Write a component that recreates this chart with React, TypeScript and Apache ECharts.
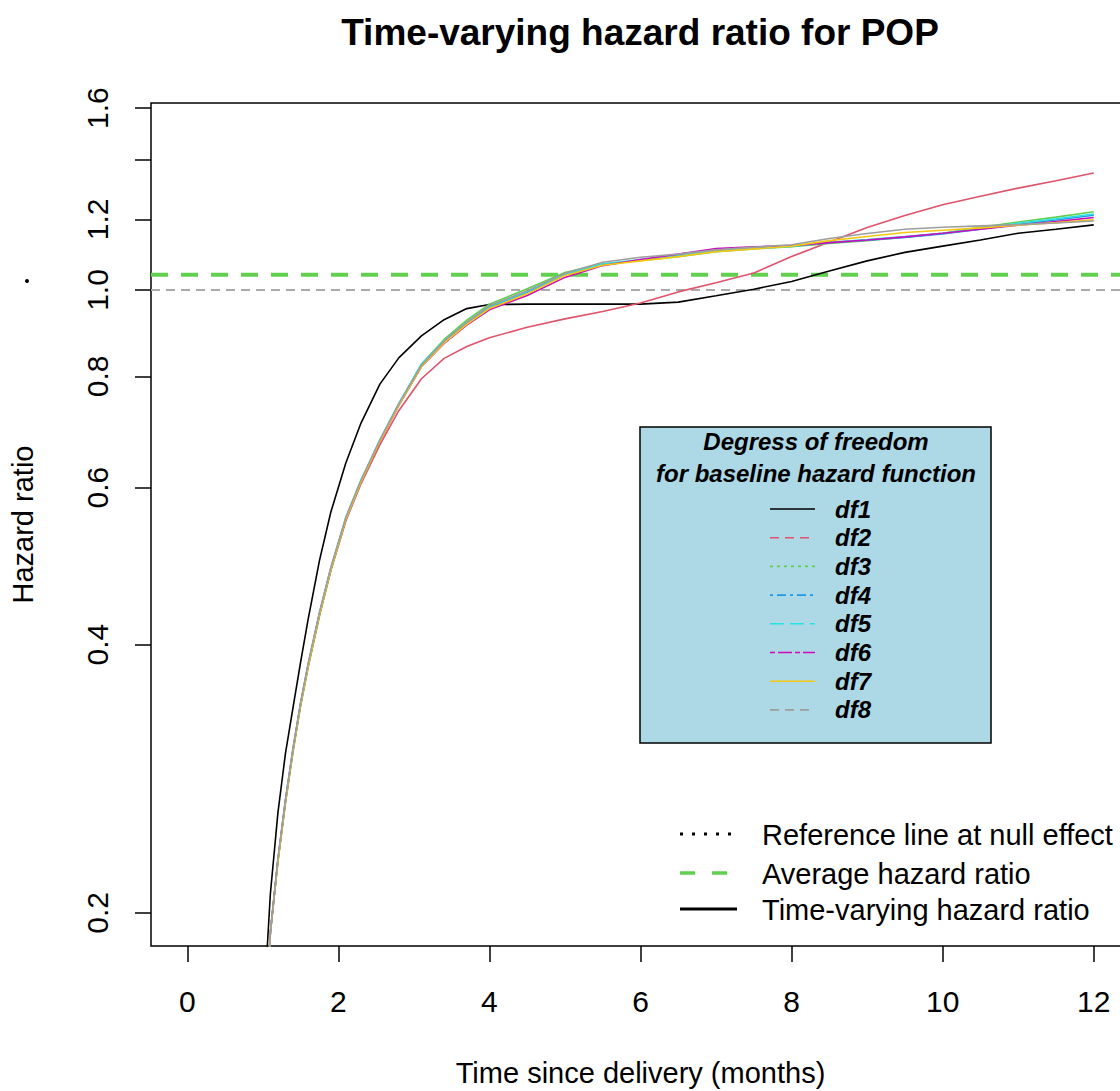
import React, { useEffect, useRef } from "react";
import * as echarts from "echarts";

// ---------- data ----------
const time = [1.0, 1.1, 1.2, 1.3, 1.4, 1.5, 1.6, 1.75, 1.9, 2.1, 2.3, 2.55, 2.8, 3.1, 3.4, 3.7, 4.0, 4.5, 5.0, 5.5, 6.0, 6.5, 7.0, 7.5, 8.0, 8.5, 9.0, 9.5, 10.0, 10.5, 11.0, 11.5, 12.0];

const df1 = [0.15, 0.21, 0.259, 0.302, 0.34, 0.382, 0.427, 0.497, 0.563, 0.64, 0.709, 0.784, 0.839, 0.888, 0.926, 0.953, 0.963, 0.964, 0.964, 0.964, 0.964, 0.969, 0.985, 1.002, 1.022, 1.05, 1.078, 1.102, 1.12, 1.138, 1.158, 1.17, 1.183];
const df2 = [0.13, 0.19, 0.229, 0.266, 0.304, 0.342, 0.378, 0.431, 0.484, 0.551, 0.606, 0.67, 0.732, 0.795, 0.838, 0.864, 0.884, 0.908, 0.928, 0.946, 0.967, 0.995, 1.019, 1.045, 1.09, 1.132, 1.175, 1.212, 1.246, 1.274, 1.301, 1.326, 1.353];
const df3 = [0.13, 0.19, 0.228, 0.266, 0.303, 0.341, 0.377, 0.431, 0.484, 0.552, 0.608, 0.676, 0.744, 0.826, 0.88, 0.925, 0.964, 1.003, 1.046, 1.07, 1.079, 1.09, 1.104, 1.112, 1.118, 1.128, 1.136, 1.146, 1.158, 1.176, 1.192, 1.207, 1.224];
const df4 = [0.13, 0.19, 0.229, 0.267, 0.305, 0.343, 0.379, 0.433, 0.486, 0.554, 0.61, 0.677, 0.743, 0.822, 0.875, 0.918, 0.956, 0.994, 1.04, 1.067, 1.08, 1.093, 1.108, 1.114, 1.12, 1.13, 1.137, 1.145, 1.156, 1.17, 1.185, 1.198, 1.213];
const df5 = [0.13, 0.19, 0.23, 0.268, 0.306, 0.344, 0.38, 0.434, 0.488, 0.556, 0.612, 0.679, 0.746, 0.825, 0.877, 0.92, 0.958, 0.996, 1.042, 1.069, 1.082, 1.094, 1.106, 1.113, 1.119, 1.131, 1.139, 1.148, 1.158, 1.172, 1.188, 1.202, 1.217];
const df6 = [0.13, 0.19, 0.229, 0.267, 0.305, 0.343, 0.379, 0.433, 0.486, 0.553, 0.609, 0.676, 0.742, 0.82, 0.871, 0.913, 0.95, 0.986, 1.033, 1.065, 1.082, 1.097, 1.113, 1.118, 1.121, 1.13, 1.138, 1.147, 1.158, 1.17, 1.182, 1.193, 1.206];
const df7 = [0.13, 0.19, 0.228, 0.266, 0.304, 0.342, 0.378, 0.432, 0.485, 0.553, 0.609, 0.676, 0.742, 0.82, 0.872, 0.915, 0.953, 0.99, 1.038, 1.066, 1.078, 1.09, 1.104, 1.112, 1.12, 1.136, 1.148, 1.16, 1.167, 1.174, 1.182, 1.19, 1.199];
const df8 = [0.13, 0.19, 0.23, 0.268, 0.306, 0.344, 0.381, 0.435, 0.488, 0.556, 0.612, 0.679, 0.745, 0.823, 0.876, 0.92, 0.96, 0.998, 1.044, 1.074, 1.088, 1.097, 1.109, 1.117, 1.124, 1.142, 1.157, 1.17, 1.176, 1.18, 1.184, 1.189, 1.195];

const seriesNames = ["df1", "df2", "df3", "df4", "df5", "df6", "df7", "df8"];
const seriesValues = [df1, df2, df3, df4, df5, df6, df7, df8];

const referenceHR = 1.0;
const averageHR = 1.04;

const xTicks = [0, 2, 4, 6, 8, 10, 12];
const yTicks = [0.2, 0.4, 0.6, 0.8, 1.0, 1.2, 1.4, 1.6];
const yLabels = [0.2, 0.4, 0.6, 0.8, 1.0, 1.2, 1.6];

const titleText = "Time-varying hazard ratio for POP";
const xName = "Time since delivery (months)";
const yName = "Hazard ratio";
const dfLegendTitle = ["Degress of freedom", "for baseline hazard function"];
const keyLabels = ["Reference line at null effect", "Average hazard ratio", "Time-varying hazard ratio"];

// ---------- styles ----------
const FONT = "'Liberation Sans', Arial, Helvetica, sans-serif";
const COLORS = ["#000000", "#DF536B", "#61D04F", "#2297E6", "#28E2E5", "#CD0BBC", "#F5C710", "#9E9E9E"];
const LEGEND_DASH: (number[] | null)[] = [null, [9, 6], [3, 4], [3, 4, 9, 4], [14, 6], [5, 3, 14, 3], null, [9, 6]];

const X_MIN = -0.48;
const X_MAX = 12.48;
const Y_MIN = 0.1836;
const Y_MAX = 1.621;

export default function App() {
  const ref = useRef<HTMLDivElement>(null);

  useEffect(() => {
    if (!ref.current) return;
    const chart = echarts.init(ref.current, null, { renderer: "svg" });
    const L = Math.log;

    const curveSeries = seriesNames.map((name, i) => ({
      type: "line",
      name,
      data: time.map((t, j) => [t, L(seriesValues[i][j])]),
      showSymbol: false,
      symbol: "none",
      silent: true,
      z: 3,
      lineStyle: { color: COLORS[i], width: 1.6 },
      itemStyle: { color: COLORS[i] },
    }));

    const refSeries = {
      type: "line",
      name: "reference",
      data: [[X_MIN, L(referenceHR)], [X_MAX, L(referenceHR)]],
      showSymbol: false,
      symbol: "none",
      silent: true,
      z: 2,
      lineStyle: { color: "#AAAAAA", width: 2, type: [9, 6] },
    };
    const avgSeries = {
      type: "line",
      name: "average",
      data: [[X_MIN, L(averageHR)], [X_MAX, L(averageHR)]],
      showSymbol: false,
      symbol: "none",
      silent: true,
      z: 2,
      lineStyle: { color: "#61D04F", width: 4, type: [17, 13] },
    };

    // ----- graphic legends -----
    const graphics: any[] = [];
    graphics.push({ type: "circle", shape: { cx: 27, cy: 281, r: 2 }, style: { fill: "#000" } });
    graphics.push({
      type: "rect",
      shape: { x: 640, y: 427, width: 351, height: 316 },
      style: { fill: "#ADD8E6", stroke: "#000", lineWidth: 1.5 },
      z: 10,
    });
    dfLegendTitle.forEach((t, i) => {
      graphics.push({
        type: "text",
        x: 816,
        y: 441 + i * 32,
        z: 11,
        style: {
          text: t, fontSize: 24, fontWeight: "bold", fontStyle: "italic", fontFamily: FONT,
          fill: "#000", align: "center", verticalAlign: "middle",
        },
      });
    });
    seriesNames.forEach((name, i) => {
      const y = 509 + i * 28.7;
      graphics.push({
        type: "line",
        z: 11,
        shape: { x1: 770, y1: y, x2: 815, y2: y },
        style: { stroke: COLORS[i], lineWidth: 1.6, lineDash: LEGEND_DASH[i] || undefined },
      });
      graphics.push({
        type: "text",
        x: 835,
        y,
        z: 11,
        style: {
          text: name, fontSize: 24, fontWeight: "bold", fontStyle: "italic", fontFamily: FONT,
          fill: "#000", align: "left", verticalAlign: "middle",
        },
      });
    });
    const keyY = [834, 873, 909];
    const keyStyles = [
      { stroke: "#000", lineWidth: 3, lineDash: [3, 9] },
      { stroke: "#61D04F", lineWidth: 3.5, lineDash: [15, 17] },
      { stroke: "#000", lineWidth: 3 },
    ];
    keyLabels.forEach((t, i) => {
      graphics.push({
        type: "line",
        z: 11,
        shape: { x1: 680, y1: keyY[i], x2: 737, y2: keyY[i] },
        style: keyStyles[i],
      });
      graphics.push({
        type: "text",
        x: 762,
        y: keyY[i] + 1,
        z: 11,
        style: {
          text: t, fontSize: 29, fontFamily: FONT, fill: "#000", align: "left", verticalAlign: "middle",
        },
      });
    });

    const option: any = {
      animation: false,
      backgroundColor: "#ffffff",
      title: {
        text: titleText,
        left: 640,
        top: 10,
        padding: 0,
        textAlign: "center",
        textStyle: { fontSize: 37, fontWeight: "bold", color: "#000", fontFamily: FONT, lineHeight: 44 },
      },
      grid: {
        left: 151,
        top: 103,
        width: 979,
        height: 843,
        show: true,
        borderColor: "#000",
        borderWidth: 1.5,
        backgroundColor: "rgba(0,0,0,0)",
        containLabel: false,
        outerBoundsMode: "none",
      },
      xAxis: {
        type: "value",
        min: X_MIN,
        max: X_MAX,
        axisLine: { show: false, onZero: false },
        splitLine: { show: false },
        axisTick: { show: true, inside: false, customValues: xTicks, length: 16, lineStyle: { color: "#000", width: 1.5 } },
        axisLabel: {
          customValues: xTicks,
          margin: 40,
          fontSize: 30,
          lineHeight: 30,
          color: "#000",
          fontFamily: FONT,
          formatter: (v: number) => String(Math.round(v)),
        },
        name: xName,
        nameLocation: "middle",
        nameGap: 112,
        nameTextStyle: { fontSize: 29, lineHeight: 30, color: "#000", fontFamily: FONT },
      },
      yAxis: {
        type: "value",
        min: L(Y_MIN),
        max: L(Y_MAX),
        axisLine: { show: false, onZero: false },
        splitLine: { show: false },
        axisTick: { show: true, inside: false, customValues: yTicks.map(L), length: 16, lineStyle: { color: "#000", width: 1.5 } },
        axisLabel: {
          customValues: yLabels.map(L),
          rotate: 90,
          margin: 39,
          fontSize: 30,
          lineHeight: 30,
          color: "#000",
          fontFamily: FONT,
          formatter: (v: number) => Math.exp(v).toFixed(1),
        },
        name: yName,
        nameLocation: "middle",
        nameGap: 113,
        nameTextStyle: { fontSize: 29, lineHeight: 30, color: "#000", fontFamily: FONT },
      },
      series: [refSeries, avgSeries, ...curveSeries],
      graphic: graphics,
    };

    chart.setOption(option);
    return () => chart.dispose();
  }, []);

  return (
    <div
      ref={ref}
      style={{ position: "absolute", left: 0, top: 0, width: 1120, height: 1091, background: "#fff" }}
    />
  );
}
